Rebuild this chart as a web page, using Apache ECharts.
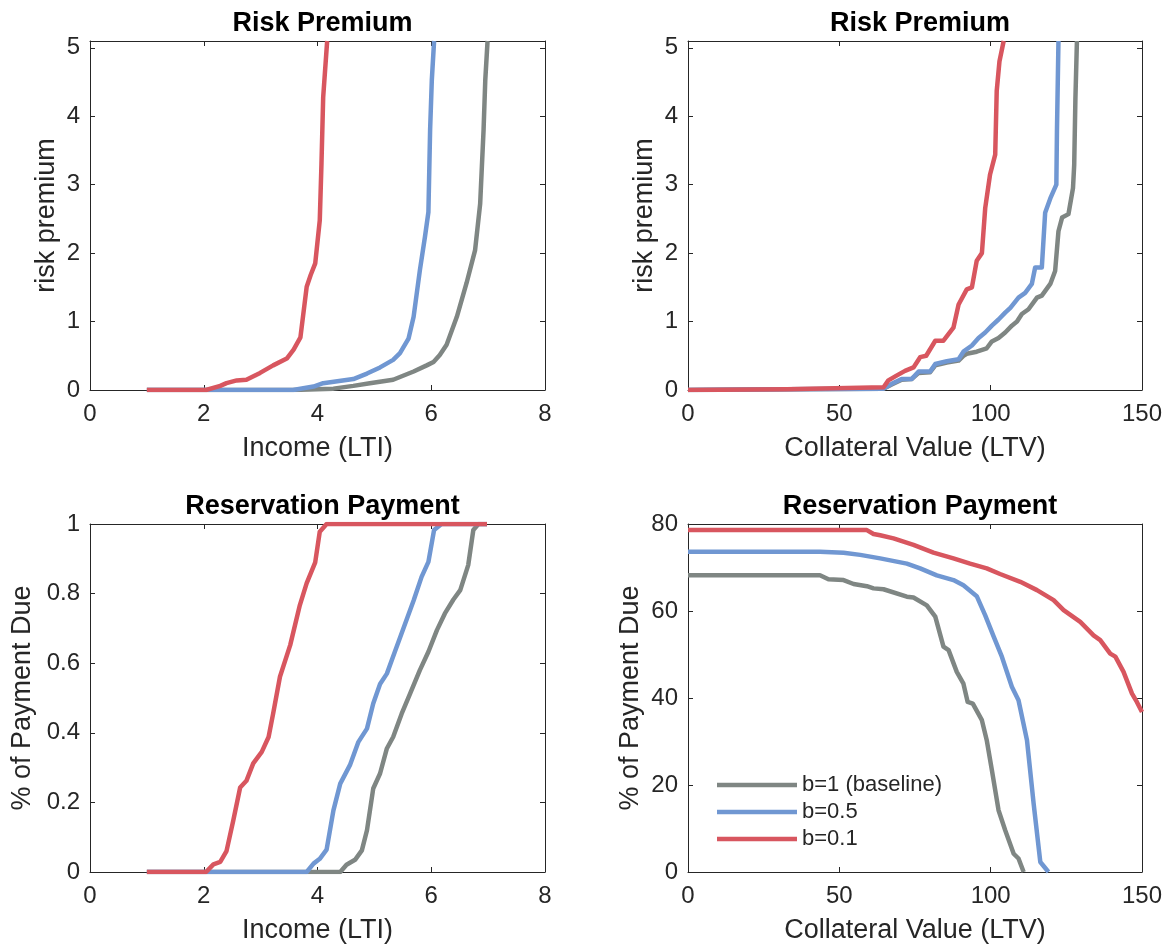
<!DOCTYPE html>
<html>
<head>
<meta charset="utf-8">
<title>Risk Premium and Reservation Payment</title>
<script src="https://cdn.jsdelivr.net/npm/echarts@6/dist/echarts.min.js"></script>
<style>
  html, body { margin: 0; padding: 0; background: #ffffff; }
  #chart { width: 1169px; height: 945px; }
</style>
</head>
<body>
<div id="chart"></div>
<script>
// Series names (legend labels)
const seriesNames = ['b=1 (baseline)', 'b=0.5', 'b=0.1'];

// Risk premium vs income (LTI): [LTI, premium]
const rpLtiBase = [[1,0],[3.57,0],[4.28,0.02],[4.63,0.06],[4.92,0.1],[5.33,0.15],[5.45,0.19],[5.69,0.27],[5.92,0.36],[6.04,0.41],[6.15,0.51],[6.27,0.66],[6.45,1.07],[6.62,1.56],[6.77,2.04],[6.86,2.72],[6.92,3.8],[6.95,4.53],[6.99,5.1]];
const rpLtiHalf = [[1,0],[3.57,0],[3.93,0.05],[4.1,0.1],[4.63,0.16],[4.87,0.24],[5.1,0.33],[5.33,0.44],[5.45,0.54],[5.6,0.75],[5.69,1.07],[5.8,1.75],[5.89,2.24],[5.95,2.6],[5.98,3.8],[6.01,4.53],[6.05,5.1]];
const rpLtiTenth = [[1,0],[2.04,0],[2.29,0.06],[2.4,0.1],[2.58,0.14],[2.75,0.15],[2.99,0.25],[3.22,0.36],[3.46,0.46],[3.58,0.59],[3.7,0.77],[3.81,1.51],[3.88,1.68],[3.96,1.85],[4.04,2.48],[4.07,3.31],[4.1,4.28],[4.17,5.1]];

// Risk premium vs collateral value (LTV): [LTV, premium]
const rpLtvBase = [[0,0],[32.6,0.01],[64.6,0.02],[67.3,0.08],[70.6,0.15],[73.9,0.16],[76.2,0.25],[80,0.26],[81.7,0.36],[85.5,0.4],[89.4,0.43],[91,0.5],[92.1,0.53],[95.4,0.56],[98.7,0.61],[100.4,0.71],[102.6,0.76],[104.8,0.84],[107,0.94],[108.7,1.0],[110.3,1.11],[112.5,1.18],[115.3,1.35],[116.9,1.38],[119.7,1.55],[121.3,1.74],[122.4,2.32],[123.6,2.52],[125.7,2.57],[127.2,2.95],[127.6,3.29],[128,4.26],[128.5,5.1]];
const rpLtvHalf = [[0,0],[32.6,0.01],[64.6,0.02],[67.3,0.09],[70.6,0.16],[73.9,0.16],[76.2,0.27],[80,0.27],[81.7,0.38],[85.5,0.42],[89.4,0.45],[91,0.56],[93.8,0.65],[96,0.76],[98.2,0.84],[100.4,0.94],[102.6,1.03],[104.8,1.13],[106.5,1.2],[109.2,1.35],[111.4,1.42],[113.6,1.55],[114.7,1.79],[116.9,1.79],[118,2.59],[119.7,2.8],[121.7,3.0],[121.9,3.78],[122.4,5.1]];
const rpLtvTenth = [[0,0],[32.6,0.01],[64.6,0.04],[66.2,0.14],[68.9,0.21],[71.7,0.28],[74.5,0.33],[76.7,0.48],[78.7,0.5],[81.7,0.72],[84.4,0.72],[87.7,0.91],[89.4,1.25],[92.1,1.47],[93.8,1.5],[95.4,1.89],[97.1,2.0],[98.2,2.66],[99.8,3.15],[101.5,3.44],[102,4.37],[102.9,4.8],[104.3,5.1]];

// Reservation payment vs income (LTI): [LTI, share of payment due]
const payLtiBase = [[1,0],[4.4,0],[4.51,0.021],[4.66,0.035],[4.78,0.062],[4.87,0.12],[4.98,0.24],[5.1,0.283],[5.22,0.355],[5.33,0.388],[5.48,0.455],[5.63,0.513],[5.8,0.58],[5.95,0.633],[6.1,0.695],[6.24,0.743],[6.39,0.783],[6.51,0.81],[6.65,0.882],[6.74,0.983],[6.83,1.0],[6.98,1.0]];
const payLtiHalf = [[1,0],[3.81,0],[3.93,0.024],[4.04,0.038],[4.16,0.064],[4.28,0.177],[4.4,0.254],[4.57,0.307],[4.72,0.374],[4.87,0.412],[4.98,0.484],[5.1,0.54],[5.22,0.57],[5.36,0.633],[5.51,0.7],[5.69,0.78],[5.83,0.848],[5.95,0.891],[6.05,0.983],[6.18,1.0],[6.98,1.0]];
const payLtiTenth = [[1,0],[2.04,0],[2.17,0.022],[2.29,0.029],[2.4,0.06],[2.52,0.149],[2.64,0.243],[2.75,0.262],[2.87,0.312],[3.02,0.345],[3.14,0.388],[3.22,0.455],[3.34,0.561],[3.52,0.652],[3.69,0.767],[3.81,0.83],[3.96,0.89],[4.04,0.978],[4.16,1.0],[6.98,1.0]];

// Reservation payment vs collateral value (LTV): [LTV, % of payment due]
const payLtvBase = [[0,68.2],[43.6,68.2],[46.4,67.3],[51.4,67.1],[54.7,66.2],[59.1,65.7],[61.3,65.2],[64.6,65],[72.3,63.3],[74.5,63.1],[78.9,61.3],[81.7,58.7],[84.4,51.8],[86.1,51],[88.8,46],[91,43.3],[92.4,39.1],[94.1,38.7],[97.1,34.9],[98.7,30.3],[100.4,23.4],[102.6,14.2],[104.8,9.6],[107.6,4.2],[109.2,3.1],[110.9,0]];
const payLtvHalf = [[0,73.6],[43.6,73.6],[51.4,73.4],[56.9,72.9],[63.5,72.1],[72.3,70.9],[76.7,69.8],[82.2,68.2],[87.7,67.1],[91,65.9],[95.4,63.4],[98.2,59],[101,54.1],[103.7,49.5],[107,42.6],[109.2,39.5],[112,30.3],[114.2,15.7],[116.4,2.3],[119.1,0]];
const payLtvTenth = [[0,78.6],[59.1,78.6],[61.3,77.7],[63.5,77.4],[67.9,76.7],[74.5,75.2],[81.1,73.4],[87.7,72.1],[93.2,70.9],[98.7,69.8],[103.1,68.5],[109.8,66.7],[115.3,64.8],[120.8,62.5],[124.1,60.2],[129.6,57.5],[134,54.4],[136.2,53.3],[139.5,50.2],[141.2,49.5],[143.9,46],[146.7,41],[148.3,39.1],[150,36.8]];

const lineColors = ['#7f8683', '#7097d2', '#d8565f'];
const ink = '#262626';
const font = 'Liberation Sans';

// Plot panel boxes
const panels = [
  { left: 90,  top: 41,  width: 455, height: 349 },
  { left: 688, top: 41,  width: 454, height: 349 },
  { left: 90,  top: 524, width: 455, height: 348 },
  { left: 688, top: 524, width: 454, height: 348 }
];

const xSpecs = [
  { min: 0, max: 8,   interval: 2,  name: 'Income (LTI)' },
  { min: 0, max: 150, interval: 50, name: 'Collateral Value (LTV)' },
  { min: 0, max: 8,   interval: 2,  name: 'Income (LTI)' },
  { min: 0, max: 150, interval: 50, name: 'Collateral Value (LTV)' }
];
const ySpecs = [
  { min: 0, max: 5.1, interval: 1,   name: 'risk premium',      gap: 30 },
  { min: 0, max: 5.1, interval: 1,   name: 'risk premium',      gap: 30 },
  { min: 0, max: 1,   interval: 0.2, name: '% of Payment Due',  gap: 54 },
  { min: 0, max: 80,  interval: 20,  name: '% of Payment Due',  gap: 44 }
];
const titles = ['Risk Premium', 'Risk Premium', 'Reservation Payment', 'Reservation Payment'];
const panelData = [
  [rpLtiBase, rpLtiHalf, rpLtiTenth],
  [rpLtvBase, rpLtvHalf, rpLtvTenth],
  [payLtiBase, payLtiHalf, payLtiTenth],
  [payLtvBase, payLtvHalf, payLtvTenth]
];

function yLabel(v) {
  // hide the extra extent tick at the top of the risk premium axes
  if (Math.abs(v - 5.1) < 1e-9) return '';
  return String(Math.round(v * 10) / 10);
}

const grid = [], xAxis = [], yAxis = [], series = [], title = [];

panels.forEach((p, i) => {
  grid.push({ left: p.left, top: p.top, width: p.width, height: p.height, containLabel: false });
  const xs = xSpecs[i], ys = ySpecs[i];
  const lineStyle = { color: ink, width: 1 };
  const tick = { show: true, inside: true, length: 5, lineStyle: { color: ink, width: 1 } };
  // bottom axis with labels
  xAxis.push({
    type: 'value', gridIndex: i, position: 'bottom', min: xs.min, max: xs.max, interval: xs.interval,
    name: xs.name, nameLocation: 'middle', nameGap: 45,
    nameTextStyle: { fontFamily: font, fontSize: 27, color: ink },
    axisLine: { show: true, onZero: false, lineStyle },
    axisTick: tick, splitLine: { show: false },
    axisLabel: { fontFamily: font, fontSize: 24, color: ink, margin: 12 }
  });
  // top edge of the box
  xAxis.push({
    type: 'value', gridIndex: i, position: 'top', min: xs.min, max: xs.max, interval: xs.interval,
    axisLine: { show: true, onZero: false, lineStyle },
    axisTick: tick, splitLine: { show: false }, axisLabel: { show: false }
  });
  // left axis with labels
  yAxis.push({
    type: 'value', gridIndex: i, position: 'left', min: ys.min, max: ys.max, interval: ys.interval,
    name: ys.name, nameLocation: 'middle', nameGap: ys.gap, nameRotate: 90,
    nameTextStyle: { fontFamily: font, fontSize: 27, color: ink },
    axisLine: { show: true, onZero: false, lineStyle },
    axisTick: tick, splitLine: { show: false },
    axisLabel: { fontFamily: font, fontSize: 24, color: ink, margin: 10, formatter: yLabel }
  });
  // right edge of the box
  yAxis.push({
    type: 'value', gridIndex: i, position: 'right', min: ys.min, max: ys.max, interval: ys.interval,
    axisLine: { show: true, onZero: false, lineStyle },
    axisTick: tick, splitLine: { show: false }, axisLabel: { show: false }
  });

  title.push({
    text: titles[i], left: p.left + p.width / 2, top: p.top - 36, textAlign: 'center',
    textStyle: { fontFamily: font, fontSize: 27, fontWeight: 'bold', color: '#000000' }
  });

  panelData[i].forEach((d, k) => {
    series.push({
      name: seriesNames[k], type: 'line', xAxisIndex: i * 2, yAxisIndex: i * 2,
      data: d, showSymbol: false, symbol: 'none', clip: true, animation: false,
      lineStyle: { color: lineColors[k], width: 4.5, cap: 'butt', join: 'round' },
      itemStyle: { color: lineColors[k] }, z: 2 + k
    });
  });
});

const chart = echarts.init(document.getElementById('chart'), null, { renderer: 'canvas' });
chart.setOption({
  backgroundColor: '#ffffff',
  animation: false,
  title,
  grid, xAxis, yAxis, series,
  legend: {
    data: seriesNames, orient: 'vertical', left: 712, top: 769,
    icon: 'rect', itemWidth: 80, itemHeight: 4.5, itemGap: 5,
    selectedMode: false,
    textStyle: { fontFamily: font, fontSize: 22, color: ink, lineHeight: 22 }
  }
});
</script>
</body>
</html>
